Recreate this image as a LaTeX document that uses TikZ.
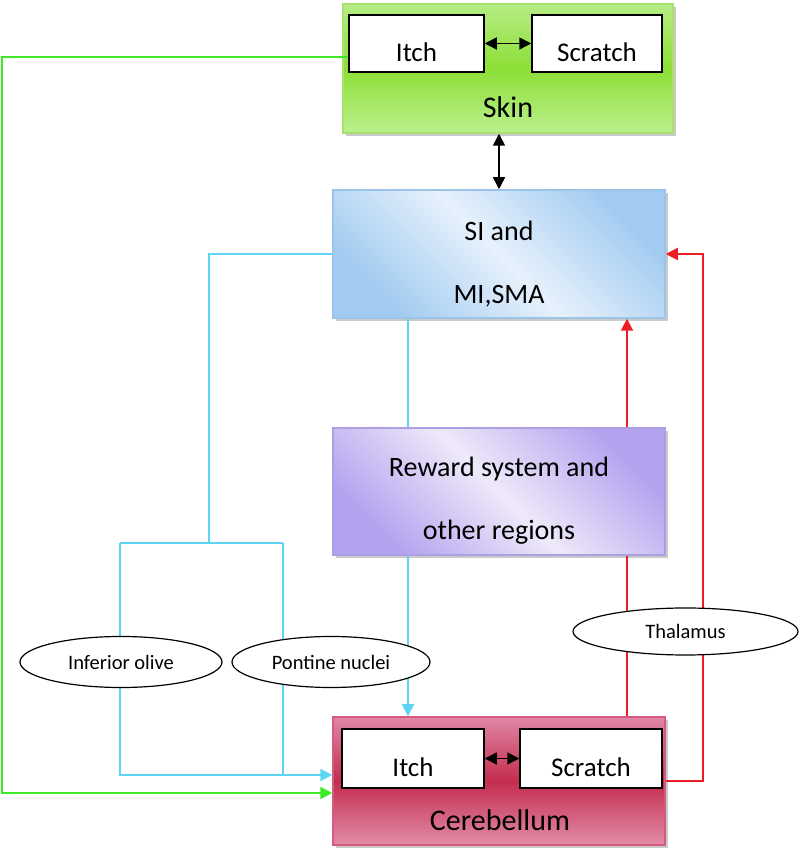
\documentclass[tikz,border=0pt]{standalone}
\usepackage{fontspec}
\setmainfont{Carlito}
\usetikzlibrary{shapes,arrows.meta,shadows}

\definecolor{skinedge}{HTML}{A8E070}
\definecolor{skintop}{HTML}{B6EC85}
\definecolor{skinmid}{HTML}{8CDF36}
\definecolor{skinbot}{HTML}{BCEF8E}
\definecolor{siedge}{HTML}{9CC4E8}
\definecolor{sidark}{HTML}{A2CBF1}
\definecolor{silight}{HTML}{E6F1FB}
\definecolor{rwedge}{HTML}{AE9FE3}
\definecolor{rwdark}{HTML}{B3A2EF}
\definecolor{rwlight}{HTML}{EEE9F9}
\definecolor{cbedge}{HTML}{D45B7D}
\definecolor{cbtop}{HTML}{E086A5}
\definecolor{cbmid}{HTML}{C42D4E}
\definecolor{cbbot}{HTML}{E28CA9}
\definecolor{greenln}{HTML}{3DEB24}
\definecolor{cyanln}{HTML}{5CD4F2}
\definecolor{redln}{HTML}{EE1C25}

\def\boxwid{332pt}
\def\boxhgt{128pt}
\def\redx{128pt}
\def\cyanx{-91pt}

\begin{document}
\begin{tikzpicture}[x=1pt, y=1pt,
            bigbox/.style={%
                rectangle, line width=1.5pt,%
                minimum width=\boxwid, minimum height=\boxhgt,%
                text centered, align=center, inner sep=0pt,%
                font=\fontsize{28}{63}\selectfont,%
                drop shadow={shadow xshift=3pt, shadow yshift=-3pt,%
                    opacity=0.35, fill=black!60}%
            },
            skinbox/.style={%
                bigbox, minimum width=330pt, minimum height=129pt,%
                draw=skinedge, top color=skintop, bottom color=skinbot,%
                middle color=skinmid%
            },
            sibox/.style={%
                bigbox, draw=siedge, top color=sidark, bottom color=sidark,%
                middle color=silight, shading angle=-45%
            },
            rewardbox/.style={%
                bigbox, minimum height=127pt, draw=rwedge,%
                top color=rwdark, bottom color=rwdark,%
                middle color=rwlight, shading angle=-45%
            },
            cerebbox/.style={%
                bigbox, draw=cbedge, top color=cbtop, bottom color=cbbot,%
                middle color=cbmid%
            },
            inbox/.style={%
                rectangle, draw=black, fill=white, line width=1.5pt,%
                minimum height=57pt, inner sep=0pt,%
                text height=37pt, text depth=0pt,%
                font=\fontsize{27}{32}\selectfont%
            },
            boxlabel/.style={%
                inner sep=0pt, font=\fontsize{30}{34}\selectfont%
            },
            nucleus/.style={%
                ellipse, draw=black, fill=white, line width=1.2pt,%
                minimum height=51pt, inner sep=0pt,%
                font=\fontsize{20.5}{24}\selectfont%
            },
            dblarrow/.style={line width=1.5pt, black, <->,%
                >={Triangle[length=12pt,width=12pt]}},
            greenarrow/.style={line width=2pt, greenln, ->,%
                >={Triangle[length=12pt,width=12pt]}},
            cyanline/.style={line width=2pt, cyanln},
            cyanarrow/.style={cyanline, ->,%
                >={Triangle[length=12pt,width=12pt]}},
            redline/.style={line width=2pt, redln},
            redarrow/.style={redline, ->,%
                >={Triangle[length=12pt,width=12pt]}}
        ]
        \useasboundingbox (0,0) rectangle (799,850);

        % Define nodes
        \node (skin) [skinbox] at (508,781.5) {};
        \node (skinitch) [inbox, minimum width=135pt] at (416.5,806.5) {Itch};
        \node (skinscratch) [inbox, minimum width=130pt] at (597,806.5) {Scratch};
        \node (skinname) [boxlabel] at (508,743) {Skin};

        \node (si) [sibox] at (499,596) {%
            \rule{0pt}{40pt}SI and\\MI,SMA
        };
        \node (reward) [rewardbox, below of=si, node distance=237.5pt] {%
            \rule{0pt}{37pt}Reward system and\\other regions
        };
        \node (cereb) [cerebbox, below of=reward, node distance=289.5pt] {};
        \node (cerebitch) [inbox, minimum width=142pt, minimum height=59pt]
            at (413,91.5) {Itch};
        \node (cerebscratch) [inbox, minimum width=142pt, minimum height=59pt]
            at (591,91.5) {Scratch};
        \node (cerebname) [boxlabel] at (500,30) {Cerebellum};

        \draw [dblarrow] (skinitch) -- (skinscratch);
        \draw [dblarrow] (skin.south -| si.north) -- (si.north);
        \draw [dblarrow] (cerebitch) -- (cerebscratch);

        \draw [greenarrow]
            ([yshift=-13.5pt]skinitch.west) -| (2,57) -- ([yshift=-12pt]cereb.west);

        \coordinate (cyansplit) at (209,307);
        \coordinate (olivetop) at (120,307);
        \coordinate (pontinetop) at (283,307);
        \coordinate (cyanin) at ([yshift=6pt]cereb.west);
        \draw [cyanline] (si.west) -| (cyansplit);
        \draw [cyanline] (olivetop) -- (pontinetop);
        \draw [cyanarrow] (olivetop) |- (cyanin);
        \draw [cyanline] (pontinetop) -- (pontinetop |- cyanin);
        \draw [cyanline]
            ([xshift=\cyanx]si.south) -- ([xshift=\cyanx]reward.north);
        \draw [cyanarrow]
            ([xshift=\cyanx]reward.south) -- ([xshift=\cyanx]cereb.north);

        \draw [redline]
            ([xshift=\redx]cereb.north) -- ([xshift=\redx]reward.south);
        \draw [redarrow]
            ([xshift=\redx]reward.north) -- ([xshift=\redx]si.south);
        \draw [redarrow]
            (cereb.east) -| ([xshift=37pt]si.east) -- (si.east);

        \node (olive) [nucleus, minimum width=202pt] at (121,188) {Inferior olive};
        \node (pontine) [nucleus, minimum width=198pt] at (331,188) {Pontine nuclei};
        \node (thalamus) [nucleus, minimum width=225pt, minimum height=47pt]
            at (685.5,218.5) {Thalamus};

        \end{tikzpicture}
\end{document}
